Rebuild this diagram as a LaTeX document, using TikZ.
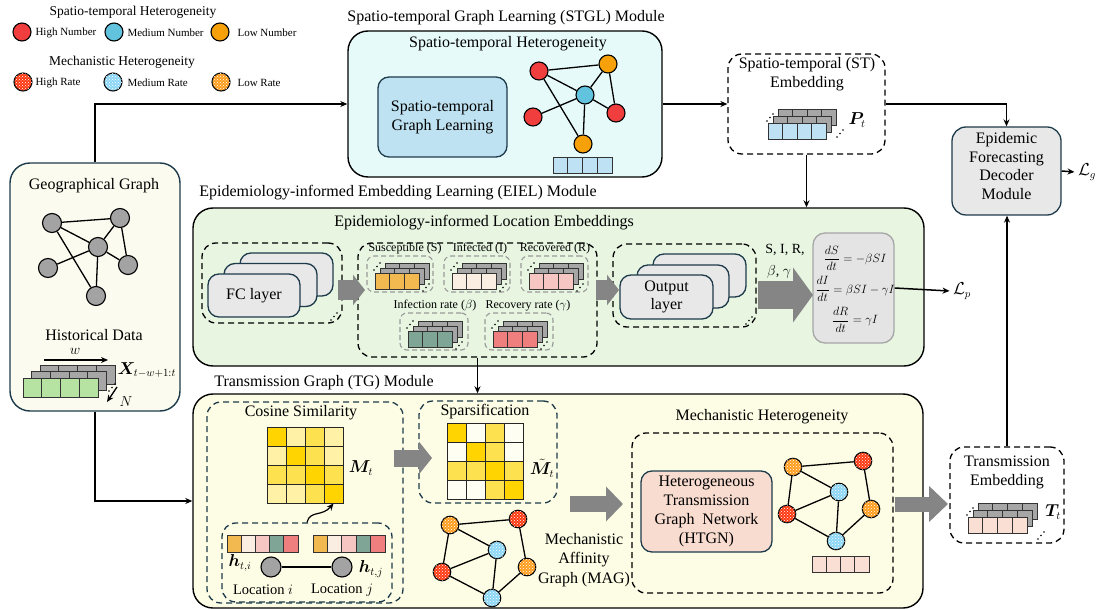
\documentclass[tikz,border=0pt]{standalone}
\usepackage{amsmath}
\usepackage{bm}
\usepackage{fontspec}
\setmainfont{Liberation Serif}
\usetikzlibrary{arrows.meta}
\usetikzlibrary{patterns}
\usetikzlibrary{calc}

\definecolor{tealline}{HTML}{1E3B4B}
\definecolor{stglbg}{HTML}{E7FAFA}
\definecolor{stglin}{HTML}{BEE2F1}
\definecolor{eielbg}{HTML}{E7F5E1}
\definecolor{tgbg}{HTML}{FDFCE4}
\definecolor{geobg}{HTML}{FBFBEF}
\definecolor{layergray}{HTML}{E8E8E8}
\definecolor{eqgray}{HTML}{E4E4E4}
\definecolor{htgnpink}{HTML}{F8DCD0}
\definecolor{stackgray}{HTML}{A6A6A6}
\definecolor{fatgray}{HTML}{858585}
\definecolor{stred}{HTML}{F03E3E}
\definecolor{stblue}{HTML}{62C3DE}
\definecolor{storange}{HTML}{F7A10A}
\definecolor{mred}{HTML}{FF3A12}
\definecolor{mblue}{HTML}{8CD6F6}
\definecolor{morange}{HTML}{FF9D1E}
\definecolor{nodegray}{HTML}{A3A3A3}
\definecolor{cS}{HTML}{F3B951}
\definecolor{cI}{HTML}{FAEEE3}
\definecolor{cR}{HTML}{F6C6C2}
\definecolor{cB}{HTML}{7FA596}
\definecolor{cG}{HTML}{EF7E7E}
\definecolor{histgreen}{HTML}{B6E2A2}
\definecolor{embblue}{HTML}{BEE2F3}
\definecolor{embpink}{HTML}{FADFD4}
\definecolor{matD}{HTML}{FFD400}
\definecolor{matM}{HTML}{FDE14E}
\definecolor{matL}{HTML}{FFF1A6}
\definecolor{matW}{HTML}{FFFEF2}

% stack of embedding vectors: x, y (front top-left), cells, cell w, cell h, layer dx, layer dy, colour
\newcommand{\embstack}[8]{%
  \foreach \kk in {2,1}{%
    \foreach \ii in {1,...,#3}{%
      \draw[cell, fill=stackgray] ({#1+\kk*#6+(\ii-1)*#4},{#2-\kk*#7}) rectangle ++(#4,#5);
    }
  }
  \foreach \ii in {1,...,#3}{%
    \draw[cell, fill=#8] ({#1+(\ii-1)*#4},{#2}) rectangle ++(#4,#5);
  }
}
% three small dots going up to the right
\newcommand{\tridots}[2]{%
  \foreach \dd in {0,1,2}{\fill ({#1+3*\dd},{#2-3.5*\dd}) circle (0.8);}
}

\begin{document}
\begin{tikzpicture}[x=1pt, y=-1pt, >={Stealth[length=7pt,width=6pt]},
  every node/.style={font=\fontsize{16}{18.5}\selectfont},
  module/.style={draw=black, line width=1.4pt, rounded corners=20pt, inner sep=0pt},
  block/.style={draw=tealline, line width=1.3pt, rounded corners=11pt, inner sep=0pt},
  dashbox/.style={draw=black, line width=1.3pt, rounded corners=14pt, dash pattern=on 6pt off 4pt, inner sep=0pt},
  subbox/.style={draw=black!40, line width=1.1pt, rounded corners=7pt, dash pattern=on 5pt off 3pt, inner sep=0pt},
  cell/.style={draw=black!80, line width=0.8pt},
  mcell/.style={draw=black!85, line width=0.9pt, minimum size=19pt, inner sep=0pt},
  vert/.style={circle, draw=black, line width=1.1pt, inner sep=0pt},
  geon/.style={vert, fill=nodegray, minimum size=19pt},
  stn/.style={vert, minimum size=18pt, fill=#1},
  mechn/.style={vert, minimum size=17.5pt, fill=#1, postaction={pattern=crosshatch dots, pattern color=white}},
  link/.style={line width=1.3pt},
  conn/.style={line width=1.5pt, ->},
  fat/.style n args={3}{draw=fatgray, line width=#1, -{Triangle[width=#2, length=#3]}},
  sublabel/.style={font=\fontsize{12}{14}\selectfont},
  legtxt/.style={font=\fontsize{11}{13}\selectfont, anchor=west},
  legtitle/.style={font=\fontsize{13.5}{15}\selectfont},
]
\useasboundingbox (0,0) rectangle (1099,609);

%%%%%%%%%%%% legend
\node[legtitle] (lgst) at (133,12) {Spatio-temporal Heterogeneity};
\node[stn=stred] (lg1) at (22,32) {};
\node[legtxt] (lg1t) at (32,33) {High Number};
\node[stn=stblue] (lg2) at (114,32) {};
\node[legtxt] (lg2t) at (124,33) {Medium Number};
\node[stn=storange] (lg3) at (220,32) {};
\node[legtxt] (lg3t) at (234,33) {Low Number};
\node[legtitle] (lgmh) at (122,62) {Mechanistic Heterogeneity};
\node[mechn=mred, minimum size=18pt] (lg4) at (23,82) {};
\node[legtxt] (lg4t) at (32,83) {High Rate};
\node[mechn=mblue, minimum size=18pt] (lg5) at (113,82) {};
\node[legtxt] (lg5t) at (124,83) {Medium Rate};
\node[mechn=morange, minimum size=18pt] (lg6) at (221,82) {};
\node[legtxt] (lg6t) at (234,83) {Low Rate};

%%%%%%%%%%%% module frames
\node[module, fill=stglbg, minimum width=314pt, minimum height=146pt] (stgl) at (505,104) {};
\node[module, draw=tealline, fill=geobg, minimum width=170pt, minimum height=248pt] (geo) at (95,287) {};
\node[module, fill=eielbg, minimum width=731pt, minimum height=158pt] (eiel) at (558.5,287) {};
\node[module, fill=tgbg, minimum width=730pt, minimum height=214pt] (tg) at (558,501) {};
\node[dashbox, minimum width=157pt, minimum height=100pt] (stemb) at (806.5,104) {};
\node[dashbox, minimum width=114pt, minimum height=96pt] (tremb) at (1007,495) {};
\node[block, fill=layergray, minimum width=109pt, minimum height=88pt, rounded corners=14pt] (dec) at (1006.5,171) {};

\node (stgltitle) at (506,18) {Spatio-temporal Graph Learning (STGL) Module};
\node (eieltitle) at (398,193) {Epidemiology-informed Embedding Learning (EIEL) Module};
\node (tgtitle) at (324,383) {Transmission Graph (TG) Module};
\node[align=center] (dectxt) at (1006.5,166) {Epidemic\\Forecasting\\Decoder\\Module};
\node (lg) at (1087,172) {$\mathcal{L}_g$};

%%%%%%%%%%%% STGL module
\node (stheter) at (508,44) {Spatio-temporal Heterogeneity};
\node[block, fill=stglin, minimum width=129pt, minimum height=80pt, align=center] (stglbox) at (442.5,117) {Spatio-temporal\\Graph Learning};
\node[stn=stred] (s1) at (539,71) {};
\node[stn=storange] (s2) at (608,64) {};
\node[stn=stblue] (s3) at (585,95) {};
\node[stn=stred] (s4) at (533,117) {};
\node[stn=stred] (s5) at (616,113) {};
\node[stn=storange] (s6) at (583,144) {};
\foreach \a/\b in {s1/s2,s1/s3,s1/s6,s2/s3,s2/s5,s3/s4,s3/s5,s3/s6}{\draw[link] (\a) -- (\b);}
\foreach \n in {0,...,3}{\draw[cell, fill=embblue] ({553+14.75*\n},157) rectangle ++(14.75,16);}

%%%%%%%%%%%% ST embedding
\node[align=center] (stembtxt) at (807,74) {Spatio-temporal (ST)\\Embedding};
\embstack{768}{123}{4}{14.5}{16}{5}{7}{embblue}
\tridots{767}{121}
\tridots{837}{137}
\node (pt) at (857,120) {$\bm{P}_t$};

%%%%%%%%%%%% geographical graph and history
\node (geotitle) at (94,186) {Geographical Graph};
\node[geon] (g1) at (52,223) {};
\node[geon] (g2) at (120,218) {};
\node[geon] (g3) at (98,247) {};
\node[geon] (g4) at (48,268) {};
\node[geon] (g5) at (128,265) {};
\node[geon] (g6) at (96,296) {};
\foreach \a/\b in {g1/g2,g1/g3,g1/g6,g2/g3,g2/g5,g3/g4,g3/g5,g3/g6}{\draw[link] (\a) -- (\b);}
\node (histtitle) at (94,335) {Historical Data};
\coordinate (wa) at (44,360);
\coordinate (wb) at (108,360);
\draw[conn, line width=1.3pt] (wa) -- (wb);
\node[font=\fontsize{14}{16}\selectfont] (wlab) at (75,351) {$w$};
\embstack{23}{378}{4}{18.75}{19}{8.5}{6.5}{histgreen}
\tridots{109}{391}
\node[anchor=west] (xlab) at (114,370) {$\bm{X}_{t-w+1:t}$};
\coordinate (na) at (117,387);
\coordinate (nb) at (107,402);
\draw[conn, line width=1.3pt] (na) -- (nb);
\node[font=\fontsize{14}{16}\selectfont] (nlab) at (126,402) {$N$};

%%%%%%%%%%%% EIEL module
\node (eielsub) at (484,223) {Epidemiology-informed Location Embeddings};
\node[dashbox, minimum width=140pt, minimum height=80pt] (fcdash) at (272,283) {};
\node[block, fill=layergray, minimum width=93pt, minimum height=43pt] (fc3) at (286.5,274.5) {};
\node[block, fill=layergray, minimum width=93pt, minimum height=43pt] (fc2) at (270.5,285) {};
\node[block, fill=layergray, minimum width=92pt, minimum height=43pt] (fc1) at (254,295.5) {FC layer};
\tridots{331}{320}

\node[dashbox, minimum width=239pt, minimum height=114pt] (sirdash) at (477.5,300) {};
\node[subbox, minimum width=66pt, minimum height=36pt] (bS) at (400,274) {};
\node[subbox, minimum width=66pt, minimum height=36pt] (bI) at (477,274) {};
\node[subbox, minimum width=67pt, minimum height=36pt] (bR) at (554.5,274) {};
\node[subbox, minimum width=68pt, minimum height=37pt] (bB) at (434,331.5) {};
\node[subbox, minimum width=68pt, minimum height=37pt] (bG) at (519,331.5) {};
\node[sublabel] (lS) at (405,249) {Susceptible (S)};
\node[sublabel] (lI) at (480,249) {Infected (I)};
\node[sublabel] (lR) at (555,249) {Recovered (R)};
\node[sublabel] (lB) at (435,306) {Infection rate ($\beta$)};
\node[sublabel] (lG) at (528,306) {Recovery rate ($\gamma$)};
\foreach \x/\y/\cl in {375/273/cS,452/273/cI,529/273/cR,408/331/cB,493/331/cG}{
  \embstack{\x}{\y}{3}{14.7}{16}{5}{5}{\cl}
  \tridots{\x-1}{\y-3}
  \tridots{\x+48}{\y+18}
}

\node[dashbox, minimum width=143pt, minimum height=83pt] (outdash) at (684.5,285.5) {};
\node[block, fill=layergray, minimum width=93pt, minimum height=43pt] (out3) at (699.5,275.5) {};
\node[block, fill=layergray, minimum width=92pt, minimum height=43pt] (out2) at (683,286.5) {};
\node[block, fill=layergray, minimum width=93pt, minimum height=44pt, align=center] (out1) at (666.5,297) {Output\\layer};
\tridots{746}{324}

\node[font=\fontsize{14}{16}\selectfont] (sirl1) at (785,250) {S, I, R,};
\node[font=\fontsize{14}{16}\selectfont] (sirl2) at (779,272) {$\beta$, $\gamma$};
\node[block, draw=black!35, fill=eqgray, minimum width=81pt, minimum height=110pt, rounded corners=12pt] (eqbox) at (853.5,288) {};
\node[font=\fontsize{12}{14}\selectfont] (eqs) at (855,289) {$\begin{gathered}\dfrac{dS}{dt}=-\beta SI\\[2pt] \dfrac{dI}{dt}=\beta SI-\gamma I\\[2pt] \dfrac{dR}{dt}=\gamma I\end{gathered}$};
\node (lp) at (962,291) {$\mathcal{L}_p$};

%%%%%%%%%%%% TG module: cosine similarity
\node[dashbox, draw=tealline, minimum width=196pt, minimum height=201pt] (cosdash) at (305,502.5) {};
\node (costitle) at (301,413) {Cosine Similarity};
\foreach \cl [count=\n from 0] in {matD,matL,matM,matL,matL,matD,matM,matL,matM,matM,matD,matM,matL,matL,matM,matD}{
  \pgfmathtruncatemacro{\mr}{\n/4}
  \pgfmathtruncatemacro{\mc}{mod(\n,4)}
  \node[mcell, fill=\cl] (cs\mr\mc) at ({276.5+19*\mc},{436.5+19*\mr}) {};
}
\node (mt) at (361,468) {$\bm{M}_t$};
\node[dashbox, draw=tealline, minimum width=170pt, minimum height=79pt] (locdash) at (307,562.5) {};
\draw[->, line width=1.2pt] (locdash.north) .. controls (310,510) and (322,517) .. (cs33.south);
\foreach \cl [count=\n from 0] in {cS,cI,cR,cB,cG}{
  \draw[cell, fill=\cl] ({227+14.2*\n},535) rectangle ++(14.2,17);
  \draw[cell, fill=\cl] ({313+14.4*\n},535) rectangle ++(14.4,17);
}
\node[geon, minimum size=20pt] (loci) at (271,567) {};
\node[geon, minimum size=20pt] (locj) at (342,567) {};
\draw[link] (loci) -- (locj);
\node (hi) at (240,563) {$\bm{h}_{t,i}$};
\node (hj) at (371,569) {$\bm{h}_{t,j}$};
\node[font=\fontsize{14.5}{16}\selectfont] (li) at (263,590) {Location $i$};
\node[font=\fontsize{14.5}{16}\selectfont] (lj) at (342,590) {Location $j$};

%%%%%%%%%%%% sparsification and MAG
\node[dashbox, draw=tealline, minimum width=138pt, minimum height=102pt] (spardash) at (488,452) {};
\node (spartitle) at (485,412) {Sparsification};
\foreach \cl [count=\n from 0] in {matD,matW,matM,matW,matW,matD,matM,matW,matM,matM,matD,matM,matW,matW,matM,matD}{
  \pgfmathtruncatemacro{\mr}{\n/4}
  \pgfmathtruncatemacro{\mc}{mod(\n,4)}
  \node[mcell, fill=\cl] (sp\mr\mc) at ({456.5+19*\mc},{432.5+19*\mr}) {};
}
\node (mtt) at (542,468) {$\tilde{\bm{M}}_t$};
\node[mechn=morange] (m1) at (450,525) {};
\node[mechn=mred] (m2) at (518,519) {};
\node[mechn=mblue] (m3) at (497,550) {};
\node[mechn=mred] (m4) at (442,572) {};
\node[mechn=morange] (m5) at (527,567) {};
\node[mechn=mblue] (m6) at (492,598) {};
\foreach \a/\b in {m1/m2,m1/m3,m1/m4,m2/m5,m3/m4,m3/m6,m4/m6,m5/m6}{\draw[link] (\a) -- (\b);}
\node[align=center, font=\fontsize{16}{19.5}\selectfont] (magtxt) at (584,560) {Mechanistic\\Affinity\\Graph (MAG)};

%%%%%%%%%%%% mechanistic heterogeneity
\node (mechtitle) at (762,417) {Mechanistic Heterogeneity};
\node[dashbox, minimum width=261pt, minimum height=160pt] (htgndash) at (762.5,513) {};
\node[block, fill=htgnpink, minimum width=131pt, minimum height=81pt, align=center, font=\fontsize{16}{19}\selectfont] (htgn) at (706.5,511.5) {Heterogeneous\\Transmission\\Graph~ Network\\(HTGN)};
\node[mechn=morange] (t1) at (793,467) {};
\node[mechn=mred] (t2) at (863,461) {};
\node[mechn=mblue] (t3) at (839,492) {};
\node[mechn=mred] (t4) at (787,514) {};
\node[mechn=morange] (t5) at (871,509) {};
\node[mechn=mblue] (t6) at (836,541) {};
\foreach \a/\b in {t1/t2,t1/t3,t1/t4,t2/t5,t3/t4,t3/t6,t4/t6,t5/t6}{\draw[link] (\a) -- (\b);}
\foreach \n in {0,...,3}{\draw[cell, fill=embpink] ({812+14.25*\n},556) rectangle ++(14.25,16);}

%%%%%%%%%%%% transmission embedding
\node[align=center] (trembtxt) at (1007,472.5) {Transmission\\Embedding};
\embstack{968}{517}{4}{14.75}{16}{5}{7}{embpink}
\tridots{967}{515}
\tridots{1038}{539}
\node (ttlab) at (1053,512) {$\bm{T}_t$};

%%%%%%%%%%%% connectors
\draw[conn] (geo.north) |- (stgl.west);
\draw[conn] (stgl.east) -- (stemb.west);
\draw[conn] (stemb.east) -| (dec.north);
\draw[conn] (stemb.south) -- (stemb.south |- eiel.north);
\draw[conn] (dec.east) -- (lg.west);
\draw[conn] (eqbox.east) -- (lp.west);
\draw[conn] (sirdash.south) -- (sirdash.south |- tg.north);
\draw[conn] (geo.south) |- (tg.west);
\draw[conn] (tremb.north) -- (tremb.north |- dec.south);

%%%%%%%%%%%% thick grey arrows
\coordinate (fa1a) at (338,290); \coordinate (fa1b) at (365,290);
\coordinate (fa2a) at (596,290); \coordinate (fa2b) at (619,290);
\coordinate (fa3a) at (758,295); \coordinate (fa3b) at (813,295);
\coordinate (fa4a) at (394,458); \coordinate (fa4b) at (432,458);
\coordinate (fa5a) at (570,504); \coordinate (fa5b) at (623,504);
\coordinate (fa6a) at (895,504); \coordinate (fa6b) at (948,504);
\draw[fat={20pt}{30pt}{12pt}] (fa1a) -- (fa1b);
\draw[fat={20pt}{30pt}{12pt}] (fa2a) -- (fa2b);
\draw[fat={27pt}{54pt}{20pt}] (fa3a) -- (fa3b);
\draw[fat={17pt}{32pt}{13pt}] (fa4a) -- (fa4b);
\draw[fat={16pt}{34pt}{17pt}] (fa5a) -- (fa5b);
\draw[fat={15pt}{35pt}{19pt}] (fa6a) -- (fa6b);
\end{tikzpicture}
\end{document}
